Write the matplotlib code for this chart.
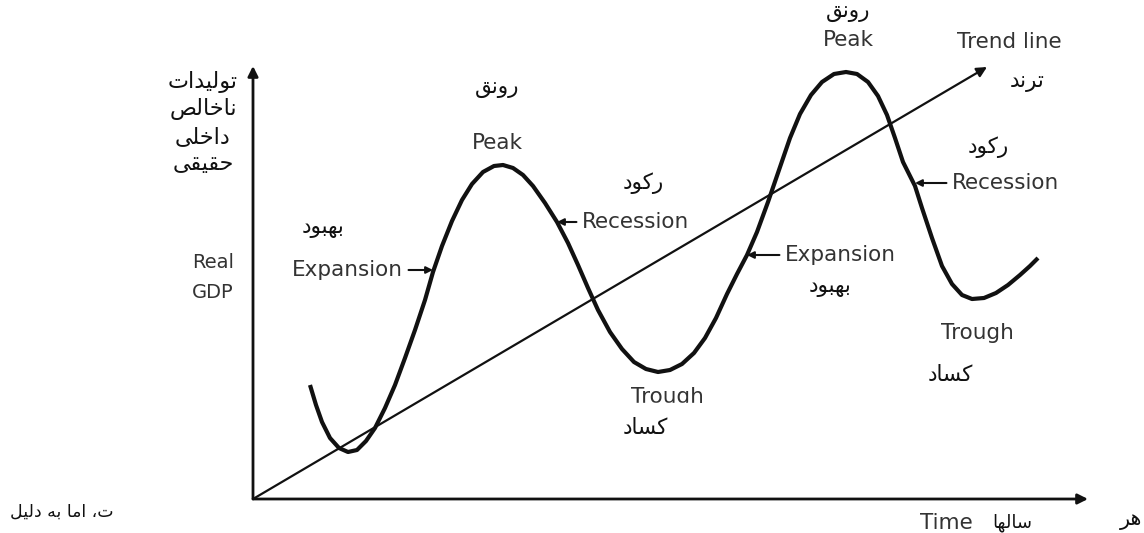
import matplotlib.pyplot as plt
from matplotlib.patches import Rectangle

# business cycle path: time vs real GDP (origin at the axes corner)
cycle_t = [57, 63, 69, 77, 86, 95, 104, 113, 122, 132, 142, 152, 162, 172, 180,
           189, 199, 209, 219, 230, 241, 250, 260, 270, 280, 292, 304, 315, 325,
           335, 345, 357, 369, 381, 393, 405, 417, 429, 441, 452, 463, 474, 484,
           494, 504, 515, 526, 537, 547, 558, 569, 581, 593, 604, 615, 625, 634,
           642, 650, 662, 669, 679, 689, 699, 709, 719, 731, 743, 755, 767, 777, 785]
cycle_g = [114, 94, 77, 61, 51, 47, 49, 58, 71, 91, 114, 141, 169, 199, 227,
           253, 278, 299, 315, 327, 333, 334, 331, 324, 313, 296, 277, 256, 234,
           211, 189, 167, 150, 137, 130, 127, 129, 135, 146, 161, 181, 205, 225,
           244, 267, 297, 329, 361, 385, 404, 417, 425, 427, 425, 417, 403, 384,
           361, 337, 313, 291, 261, 233, 215, 204, 200, 201, 206, 214, 224, 233, 241]

# long-run trend
trend_t = [0, 734]
trend_g = [0, 432]

axis_len_t = 835
axis_len_g = 433

# Persian presentation forms: isolated, final, initial, medial
FORMS = {
    'ا': ('\uFE8D', '\uFE8E'), 'د': ('\uFEA9', '\uFEAA'),
    'ر': ('\uFEAD', '\uFEAE'), 'و': ('\uFEED', '\uFEEE'),
    'ب': ('\uFE8F', '\uFE90', '\uFE91', '\uFE92'),
    'ت': ('\uFE95', '\uFE96', '\uFE97', '\uFE98'),
    'ح': ('\uFEA1', '\uFEA2', '\uFEA3', '\uFEA4'),
    'خ': ('\uFEA5', '\uFEA6', '\uFEA7', '\uFEA8'),
    'س': ('\uFEB1', '\uFEB2', '\uFEB3', '\uFEB4'),
    'ص': ('\uFEB9', '\uFEBA', '\uFEBB', '\uFEBC'),
    'ق': ('\uFED5', '\uFED6', '\uFED7', '\uFED8'),
    'ک': ('\uFB8E', '\uFB8F', '\uFB90', '\uFB91'),
    'ل': ('\uFEDD', '\uFEDE', '\uFEDF', '\uFEE0'),
    'م': ('\uFEE1', '\uFEE2', '\uFEE3', '\uFEE4'),
    'ن': ('\uFEE5', '\uFEE6', '\uFEE7', '\uFEE8'),
    'ه': ('\uFEE9', '\uFEEA', '\uFEEB', '\uFEEC'),
    'ی': ('\uFBFC', '\uFBFD', '\uFBFE', '\uFBFF'),
}


def fa(s):
    out = []
    for i, c in enumerate(s):
        if c not in FORMS:
            out.append(c)
            continue
        f = FORMS[c]
        prev = s[i - 1] if i > 0 else ''
        nxt = s[i + 1] if i + 1 < len(s) else ''
        join_prev = prev in FORMS and len(FORMS[prev]) == 4
        join_next = len(f) == 4 and nxt in FORMS
        if join_prev and join_next:
            out.append(f[3])
        elif join_prev:
            out.append(f[1])
        elif join_next:
            out.append(f[2])
        else:
            out.append(f[0])
    return ''.join(reversed(out))


ink = '#111111'
grey = '#333333'
en = dict(family='DejaVu Sans', color=grey, fontsize=15.5)
ar = dict(family=['DejaVu Sans'], color=ink, fontsize=15.5)

fig = plt.figure(figsize=(11.44, 5.33), dpi=100)
ax = fig.add_axes([0, 0, 1, 1])
ax.set_xlim(-253, 891)
ax.set_ylim(-34, 499)
ax.axis('off')

head = dict(arrowstyle='-|>', color=ink, lw=2, mutation_scale=15,
            shrinkA=0, shrinkB=0)
ax.annotate('', xy=(0, axis_len_g), xytext=(0, 0), arrowprops=head)
ax.annotate('', xy=(axis_len_t, 0), xytext=(0, 0), arrowprops=head)
ax.annotate('', xy=(trend_t[1], trend_g[1]), xytext=(trend_t[0], trend_g[0]),
            arrowprops=dict(head, lw=1.6))

ax.plot(cycle_t, cycle_g, color=ink, lw=3, solid_capstyle='butt',
        solid_joinstyle='round')

# axis titles
for txt, y in zip(['تولیدات', 'ناخالص', 'داخلی', 'حقیقی'], [417, 390, 362, 335]):
    ax.text(-50, y, fa(txt), ha='center', va='center', **dict(ar, fontsize=16))
ax.text(-40, 237, 'Real', ha='center', va='center', **dict(en, fontsize=14))
ax.text(-40, 206, 'GDP', ha='center', va='center', **dict(en, fontsize=14))
ax.text(720, -24, 'Time', ha='right', va='center', **en)
ax.text(759, -24, fa('سالها'), ha='center', va='center', **dict(ar, fontsize=13))

# phase labels
lbl = dict(arrowstyle='-|>', color=ink, lw=1.5, mutation_scale=10,
           shrinkA=2, shrinkB=0)
ax.text(244, 411, fa('رونق'), ha='center', va='center', **ar)
ax.text(244, 356, 'Peak', ha='center', va='center', **en)
ax.text(390, 316, fa('رکود'), ha='center', va='center', **ar)
ax.annotate('Recession', xy=(304, 277), xytext=(329, 277), ha='left',
            va='center', arrowprops=lbl, **en)
ax.text(70, 271, fa('بهبود'), ha='center', va='center', **ar)
ax.annotate('Expansion', xy=(180, 229), xytext=(150, 229), ha='right',
            va='center', arrowprops=lbl, **en)
ax.text(414, 102, 'Trough', ha='center', va='center', **en)
ax.add_patch(Rectangle((372, 84), 72, 12, color='white', zorder=5))
ax.text(392, 71, fa('کساد'), ha='center', va='center', zorder=6, **ar)

ax.annotate('Expansion', xy=(494, 244), xytext=(532, 244), ha='left',
            va='center', arrowprops=lbl, **en)
ax.text(577, 212, fa('بهبود'), ha='center', va='center', **ar)
ax.text(595, 487, fa('رونق'), ha='center', va='center', **ar)
ax.text(595, 459, 'Peak', ha='center', va='center', **en)
ax.text(756, 457, 'Trend line', ha='center', va='center', **en)
ax.text(774, 417, fa('ترند'), ha='center', va='center', **ar)
ax.text(735, 352, fa('رکود'), ha='center', va='center', **ar)
ax.annotate('Recession', xy=(662, 316), xytext=(699, 316), ha='left',
            va='center', arrowprops=lbl, **en)
ax.text(724, 166, 'Trough', ha='center', va='center', **en)
ax.text(697, 124, fa('کساد'), ha='center', va='center', **ar)

# surrounding page text
ax.text(-243, -13, fa('ت، اما به دلیل'), ha='left', va='center',
        **dict(ar, fontsize=12.5))
ax.text(878, -21, fa('هر'), ha='center', va='center', **dict(ar, fontsize=15))

fig.savefig('out.png', dpi=100)
